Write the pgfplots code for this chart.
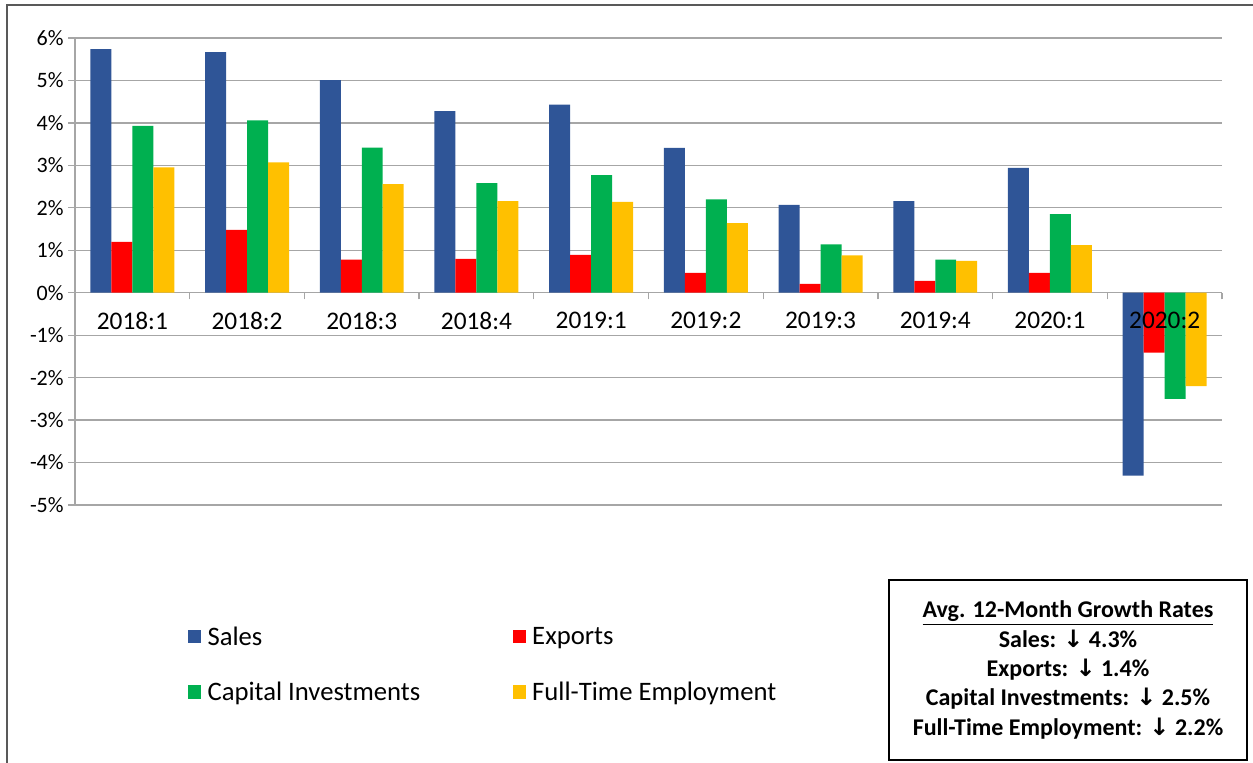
\documentclass[border=0pt]{standalone}
\usepackage{pgfplots}
\pgfplotsset{compat=1.18}
\usepackage{pgfplotstable}
\usepackage{fontspec}
\setmainfont{Carlito}
\newfontfamily\arrowfont{DejaVu Sans}
\definecolor{cSales}{HTML}{2F5597}
\definecolor{cExp}{HTML}{FF0000}
\definecolor{cCap}{HTML}{00B050}
\definecolor{cFte}{HTML}{FFC000}
\definecolor{cGrid}{HTML}{A6A6A6}
\pgfplotsset{
  basegeom/.style={
    at={(56.25pt,193.5pt)}, anchor=south west,
    scale only axis, width=860.25pt, height=350.25pt,
    xmin=-0.5, xmax=9.5, ymin=-5, ymax=6,
  },
}
\pgfplotstableread{
x sales exports capital fte
0 5.74 1.20 3.93 2.95
1 5.67 1.48 4.06 3.07
2 5.01 0.78 3.42 2.56
3 4.28 0.80 2.58 2.16
4 4.43 0.89 2.77 2.14
5 3.41 0.47 2.20 1.64
6 2.07 0.21 1.14 0.88
7 2.16 0.28 0.78 0.75
8 2.94 0.47 1.85 1.12
9 -4.31 -1.41 -2.50 -2.20
}\datatable
\begin{document}
\begin{tikzpicture}
\useasboundingbox (0,0) rectangle (939.75pt,572.25pt);
\draw[line width=1.4pt, black!65] (5.25pt,0) -- (5.25pt,568.5pt) -- (939.75pt,568.5pt);
\begin{axis}[
  basegeom,
  axis y line*=left, axis x line*=middle,
  axis line style={cGrid, line width=1pt},
  ymajorgrids, grid style={cGrid, line width=1pt},
  ytick={-5,-4,...,6},
  yticklabels={-5\%,-4\%,-3\%,-2\%,-1\%,0\%,1\%,2\%,3\%,4\%,5\%,6\%},
  xtick={-0.5,0.5,...,9.5},
  xticklabels={},
  tick align=outside,
  tick style={cGrid, line width=1pt},
  major tick length=5pt,
  yticklabel style={font=\fontsize{16.5}{19}\selectfont, text=black},
  ybar=0pt, bar width=0.183,
  legend columns=2,
  legend style={at={(rel axis cs:0.0985,-0.254)}, anchor=north west, draw=none, fill=none,
    font=\fontsize{20}{24}\selectfont, row sep=22pt, inner sep=0pt},
  legend cell align=left,
  legend image code/.code={\fill[#1] (0pt,-4.9pt) rectangle (9.75pt,4.9pt); \path (12.5pt,0pt);},
]
\addplot[fill=cSales, draw=none] table[x=x,y=sales]{\datatable};
\addplot[fill=cExp, draw=none] table[x=x,y=exports]{\datatable};
\addplot[fill=cCap, draw=none] table[x=x,y=capital]{\datatable};
\addplot[fill=cFte, draw=none] table[x=x,y=fte]{\datatable};
\legend{\makebox[227pt][l]{Sales},Exports,\makebox[227pt][l]{Capital Investments},Full-Time Employment}
\end{axis}
\begin{axis}[
  basegeom,
  axis x line*=middle, axis y line=none,
  axis line style={draw=none},
  xtick={0,...,9}, ytick=\empty,
  xticklabels={2018:1,2018:2,2018:3,2018:4,2019:1,2019:2,2019:3,2019:4,2020:1,2020:2},
  major tick length=0pt, x tick style={draw=none},
  xticklabel style={font=\fontsize{19}{22}\selectfont, text=black, yshift=-11pt},
]
\end{axis}
\node[draw=black, line width=1.3pt, minimum width=268.5pt, minimum height=135pt, inner sep=0pt] (box) at (801pt,69.75pt) {};
\node[align=center, font=\bfseries\fontsize{18}{22}\selectfont] at (box.center) {%
\underline{Avg. 12-Month Growth Rates}\\
Sales: {\arrowfont ↓} 4.3\%\\
Exports: {\arrowfont ↓} 1.4\%\\
Capital Investments: {\arrowfont ↓} 2.5\%\\
Full-Time Employment: {\arrowfont ↓} 2.2\%};
\end{tikzpicture}
\end{document}
